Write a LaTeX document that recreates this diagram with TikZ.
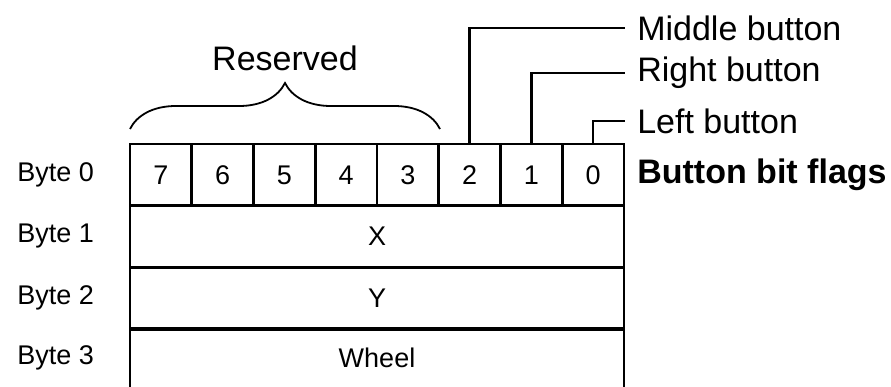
\documentclass[tikz,border=0pt]{standalone}
\usepackage{fontspec}
\setmainfont{Liberation Sans}
\usepackage{tikz}
\usetikzlibrary{positioning,decorations.pathreplacing}

\begin{document}
\begin{tikzpicture}[
    x=1pt, y=-1pt,
    line width=2.6pt,
    small/.style={font=\fontsize{27}{31}\selectfont},
    big/.style={font=\fontsize{34}{39}\selectfont},
    bitcell/.style={draw, small, rectangle, inner sep=0pt, minimum width=61.75pt, minimum height=62pt},
    rowbox/.style={draw, small, rectangle, inner sep=0pt, minimum width=494pt, minimum height=61.5pt},
    bytelbl/.style={small, anchor=west, inner sep=0pt},
    flaglbl/.style={big, anchor=west, inner xsep=11pt, inner ysep=0pt}
]
\useasboundingbox (0,0) rectangle (891,387);

% Byte labels
\node[bytelbl] (B0) at (16,175) {Byte 0};
\node[bytelbl] (B1) at (16,236.5) {Byte 1};
\node[bytelbl] (B2) at (16,298) {Byte 2};
\node[bytelbl] (B3) at (16,358) {Byte 3};

% Byte 0 bits
\foreach \i in {0,...,7}
  \node[bitcell] (b\i) at ({624-61.75*(\i+0.5)},175) {\i};

% Byte 1 .. 3
\node[rowbox] (X) at (377,236.5) {X};
\node[rowbox] (Y) at (377,298) {Y};
\node[small] (W) at (377,358) {Wheel};
\draw (130,390) |- (Y.south) -| (624,390);

% Button flags
\node[flaglbl] (MID) at (625,28)  {Middle button};
\node[flaglbl] (RGT) at (625,73)  {Right button};
\node[flaglbl] (LFT) at (625,121) {Left button};
\node[flaglbl, font=\fontsize{34}{39}\selectfont\bfseries] (FLG) at (625,175) {Button bit flags};

\draw (b2.north) |- (MID.west);
\draw (b1.north) |- (RGT.west);
\draw (b0.north) |- (LFT.west);

% Reserved
\coordinate (r0) at (130,129);
\coordinate (r1) at (440,129);
\draw[line width=1.8pt, decorate, decoration={brace, amplitude=46pt}] (r0) -- (r1);
\node[big] (RES) at (285,58) {Reserved};

\end{tikzpicture}
\end{document}
